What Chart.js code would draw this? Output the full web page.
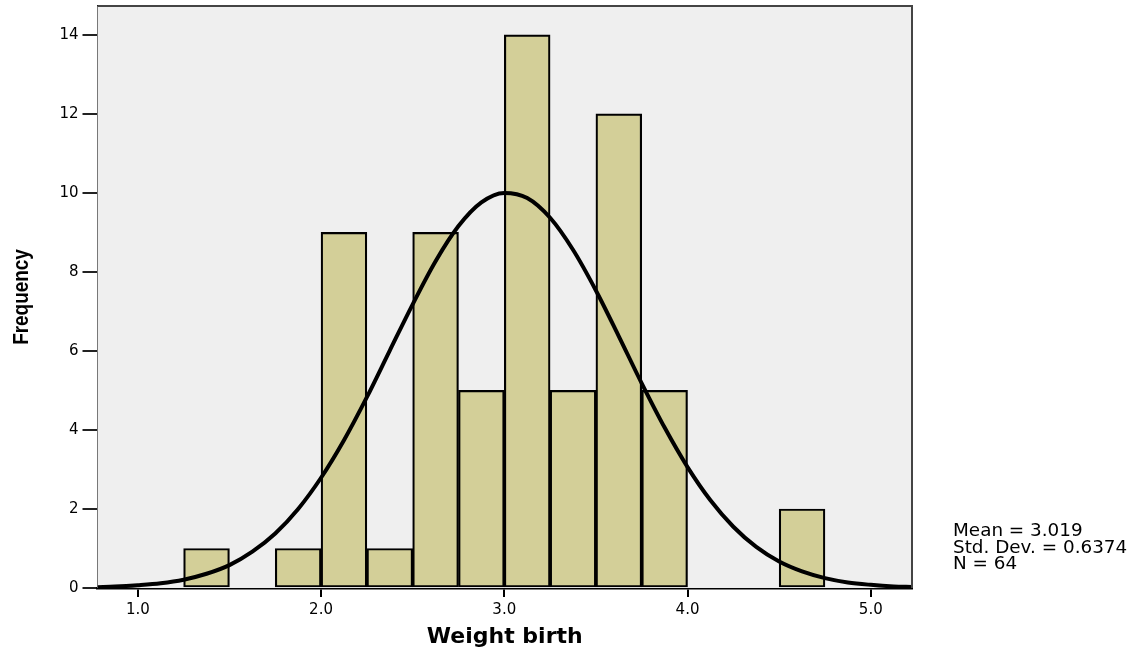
<!DOCTYPE html>
<html>
<head>
<meta charset="utf-8">
<script src="https://cdn.jsdelivr.net/npm/chart.js@4/dist/chart.umd.min.js"></script>
<style>
  html, body { margin: 0; padding: 0; background: #fff; }
  #wrap { width: 1140px; height: 654px; }
</style>
</head>
<body>
<div id="wrap"><canvas id="histChart" width="1140" height="654"></canvas></div>
<script>
// histogram bins (centre of each 0.25 wide bin) and counts
const binCentres = [1.375, 1.625, 1.875, 2.125, 2.375, 2.625, 2.875, 3.125, 3.375, 3.625, 3.875, 4.125, 4.375, 4.625];
const binCounts  = [1, 0, 1, 9, 1, 9, 5, 14, 5, 12, 5, 0, 0, 2];

// normal curve
const curveX = [0.78, 0.875, 1.0, 1.125, 1.25, 1.375, 1.5, 1.625, 1.75, 1.875, 2.0, 2.125, 2.25, 2.375, 2.5, 2.625, 2.75, 2.875,
                3.0, 3.125, 3.25, 3.375, 3.5, 3.625, 3.75, 3.875, 4.0, 4.125, 4.25, 4.375, 4.5, 4.625, 4.75, 4.875, 5.0, 5.125, 5.225];
const curveY = [0.02, 0.035, 0.07, 0.12, 0.21, 0.36, 0.58, 0.92, 1.38, 2.0, 2.79, 3.74, 4.83, 6.01, 7.18, 8.27, 9.16, 9.76,
                10.0, 9.87, 9.37, 8.56, 7.53, 6.37, 5.18, 4.06, 3.06, 2.22, 1.55, 1.04, 0.67, 0.42, 0.25, 0.14, 0.08, 0.04, 0.025];

const xTicks = [1.0, 2.0, 3.0, 4.0, 5.0];
const yTicks = [0, 2, 4, 6, 8, 10, 12, 14];
const yTitle = "Frequency";
const statsLines = ["Mean = 3.019", "Std. Dev. = 0.6374", "N = 64"];

// grey plot background + top/right frame + y title + stats text
const frame = {
    id: "frame",
    beforeDatasetsDraw(chart) {
        const { ctx, chartArea: a } = chart;
        ctx.save();
        ctx.fillStyle = "#efefef";
        ctx.fillRect(a.left, a.top, a.right - a.left, a.bottom - a.top);
        ctx.restore();
    },
    afterDraw(chart) {
        const { ctx, chartArea: a } = chart;
        ctx.save();
        ctx.strokeStyle = "#444";
        ctx.lineWidth = 2;
        ctx.beginPath();
        ctx.moveTo(a.left, a.top);
        ctx.lineTo(a.right, a.top);
        ctx.lineTo(a.right, a.bottom);
        ctx.stroke();

        // stats box, slightly widened like the original
        ctx.save();
        ctx.translate(953, 0);
        ctx.scale(1.08, 1);
        ctx.fillStyle = "#000";
        ctx.font = "17px 'DejaVu Sans', sans-serif";
        ctx.textBaseline = "middle";
        ctx.textAlign = "left";
        statsLines.forEach((t, i) => ctx.fillText(t, 0, 532 + i * 16.5));
        ctx.restore();

        // narrow bold y title
        ctx.fillStyle = "#000";
        ctx.textBaseline = "middle";
        ctx.translate(22, (a.top + a.bottom) / 2);
        ctx.rotate(-Math.PI / 2);
        ctx.scale(0.86, 1);
        ctx.font = "bold 22px 'Liberation Sans', Arial, sans-serif";
        ctx.textAlign = "center";
        ctx.fillText(yTitle, 0, 0);
        ctx.restore();
    }
};

new Chart(document.getElementById("histChart"), {
    type: "bar",
    data: {
        datasets: [
            {
                type: "line",
                data: curveX.map((x, i) => ({ x: x, y: curveY[i] })),
                borderColor: "#000",
                borderWidth: 4,
                pointRadius: 0,
                cubicInterpolationMode: "monotone",
                fill: false,
                order: 0
            },
            {
                type: "bar",
                data: binCentres.map((x, i) => ({ x: x, y: binCounts[i] })),
                backgroundColor: "#d3cf98",
                borderColor: "#000",
                borderWidth: 2.2,
                borderSkipped: false,
                barPercentage: 1,
                categoryPercentage: 1,
                order: 1
            }
        ]
    },
    options: {
        responsive: false,
        devicePixelRatio: 1,
        animation: false,
        layout: { padding: { top: 6, right: 228, left: 0, bottom: 0 } },
        plugins: {
            legend: { display: false },
            tooltip: { enabled: false }
        },
        scales: {
            x: {
                type: "linear",
                min: 0.78,
                max: 5.225,
                offset: false,
                afterBuildTicks: scale => { scale.ticks = xTicks.map(v => ({ value: v })); },
                afterFit: scale => { scale.height = 66; scale.paddingLeft = 0; scale.paddingRight = 0; },
                grid: { display: true, offset: false, drawOnChartArea: false, drawTicks: true, tickLength: 9, color: "#000", lineWidth: 2 },
                border: { display: true, color: "#000", width: 2.5 },
                ticks: {
                    padding: 4,
                    color: "#000",
                    font: { family: "'DejaVu Sans', sans-serif", size: 15 },
                    callback: v => Number(v).toFixed(1)
                },
                title: {
                    display: true,
                    text: "Weight birth",
                    color: "#000",
                    font: { family: "'DejaVu Sans', sans-serif", size: 22, weight: "bold" },
                    padding: { top: 0, bottom: 4 }
                }
            },
            y: {
                min: 0,
                max: 14.73,
                afterBuildTicks: scale => { scale.ticks = yTicks.map(v => ({ value: v })); },
                afterFit: scale => { scale.width = 97.5; scale.paddingTop = 0; scale.paddingBottom = 0; },
                grid: { display: true, drawOnChartArea: false, drawTicks: true, tickLength: 15, color: "#222", lineWidth: 2 },
                border: { display: true, color: "#000", width: 2 },
                ticks: {
                    padding: 4,
                    color: "#000",
                    font: { family: "'DejaVu Sans', sans-serif", size: 15 }
                },
                title: { display: false }
            }
        }
    },
    plugins: [frame]
});
</script>
</body>
</html>
